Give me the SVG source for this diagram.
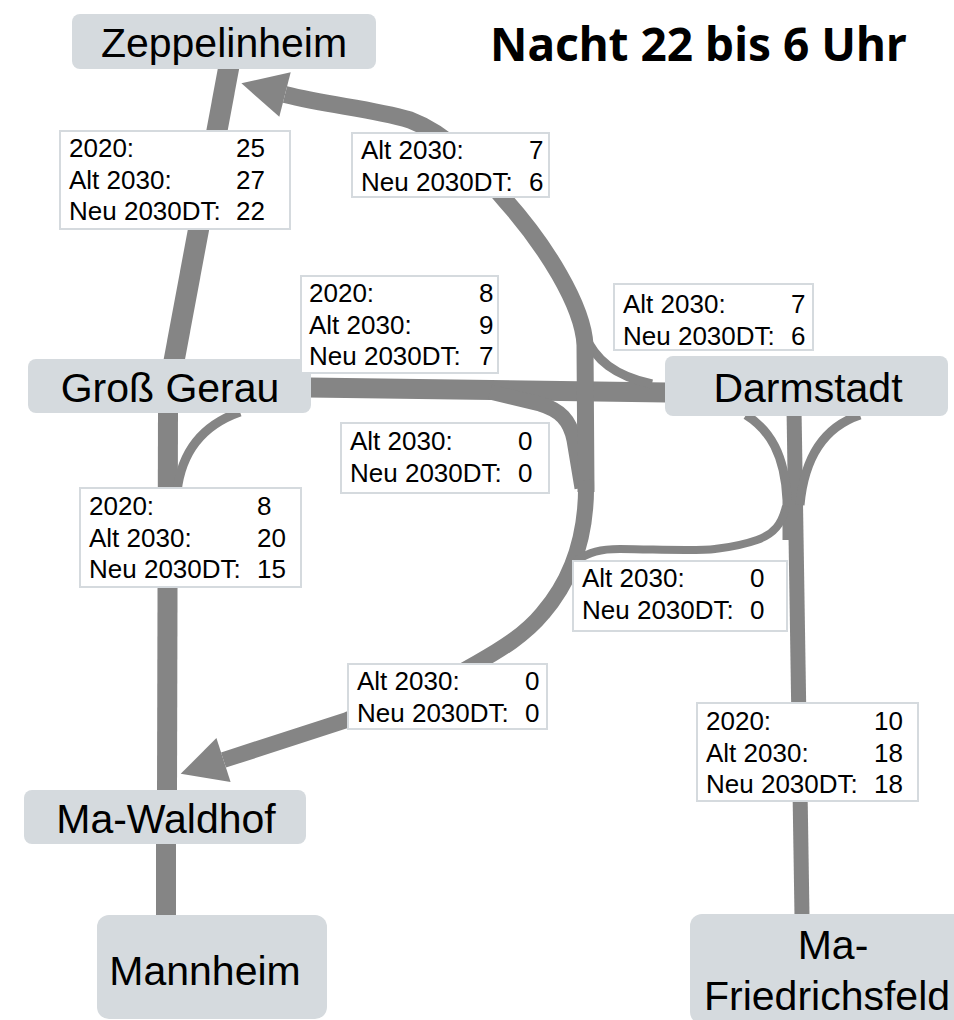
<svg xmlns="http://www.w3.org/2000/svg" width="954" height="1020" viewBox="0 0 954 1020">
  <style>
    .e { fill: none; stroke: #858585; stroke-linecap: butt; stroke-linejoin: round; }
    .node rect { fill: #d5dade; }
    .node text { font-family: "Liberation Sans", Arial, sans-serif; font-size: 41px; fill: #000; text-anchor: middle; }
    .lbl rect { fill: #fff; stroke: #d5dade; stroke-width: 2; }
    .lbl text { font-family: "Liberation Sans", Arial, sans-serif; font-size: 26px; fill: #000; }
    .title { font-family: "Noto Sans", "Open Sans", "DejaVu Sans", sans-serif; font-size: 46px; font-weight: bold; fill: #000; }
  </style>
  <defs>
    <marker id="arr" markerUnits="userSpaceOnUse" markerWidth="50" markerHeight="50" viewBox="0 -25 50 50" refX="0" refY="0" orient="auto" overflow="visible">
      <path d="M45,0 L0,-23 L0,23 Z" fill="#858585"/>
    </marker>
  </defs>
  <rect width="954" height="1020" fill="#fff"/>

  <g id="connectors">
    <!-- Zeppelinheim - Gross Gerau -->
    <path class="e" stroke-width="21" d="M229 66 L174 361"/>
    <!-- Gross Gerau - Ma-Waldhof -->
    <path class="e" stroke-width="20" d="M168 411 L167 792"/>
    <!-- Ma-Waldhof - Mannheim -->
    <path class="e" stroke-width="20" d="M166 842 L166 917"/>
    <!-- Gross Gerau branch curve -->
    <path class="e" stroke-width="9" d="M177 492 C181 455, 200 426, 240 412"/>
    <!-- Gross Gerau - Darmstadt -->
    <path class="e" stroke-width="20" d="M309 387.5 L667 392.5"/>
    <!-- branch from GG-D line down -->
    <path class="e" stroke-width="15" d="M490 392 L540 404 C560 410, 570 420, 574 440 L582 488"/>
    <!-- Darmstadt left curve to vertical -->
    <path class="e" stroke-width="9" d="M585 335 C595 360, 615 376, 652 384"/>
    <!-- big curve up to Zeppelinheim -->
    <path class="e" stroke-width="17" marker-end="url(#arr)" d="M586 492 L585 345 C583 305, 545 245, 505 200 C480 170, 450 135, 410 120 C370 108, 330 106, 285 94.5"/>
    <!-- big curve down to Ma-Waldhof -->
    <path class="e" stroke-width="16" marker-end="url(#arr)" d="M586 480 C587 520, 580 570, 543 613 C525 635, 500 650, 477 663 C440 685, 400 700, 347 720 L223.5 760"/>
    <!-- Darmstadt - Ma-Friedrichsfeld -->
    <path class="e" stroke-width="15" d="M794 408 L802 916"/>
    <!-- Darmstadt bottom curves -->
    <path class="e" stroke-width="9" d="M746 415 C770 430, 785 455, 787 500 L787 540"/>
    <path class="e" stroke-width="9" d="M860 415 C830 425, 805 450, 800 505"/>
    <!-- S-curve from Darmstadt vertical to big curve -->
    <path class="e" stroke-width="8" d="M786 506 C782 524, 774 534, 757 540 C740 546, 730 547, 715 549 C700 551, 680 550, 620 549 C600 549, 590 552, 575 561"/>
  </g>

  <g id="node-zeppelinheim" class="node">
    <rect x="72" y="14" width="304" height="55" rx="8"/>
    <text x="224" y="57">Zeppelinheim</text>
  </g>
  <g id="node-gross-gerau" class="node">
    <rect x="28" y="359" width="283" height="54" rx="8"/>
    <text x="170" y="402">Groß Gerau</text>
  </g>
  <g id="node-darmstadt" class="node">
    <rect x="665" y="356" width="283" height="60" rx="8"/>
    <text x="808" y="402">Darmstadt</text>
  </g>
  <g id="node-ma-waldhof" class="node">
    <rect x="24" y="790" width="282" height="54" rx="8"/>
    <text x="166" y="833">Ma-Waldhof</text>
  </g>
  <g id="node-mannheim" class="node">
    <rect x="97" y="915" width="230" height="104" rx="12"/>
    <text x="205" y="985">Mannheim</text>
  </g>
  <g id="node-ma-friedrichsfeld" class="node">
    <rect x="690" y="914" width="290" height="110" rx="12"/>
    <text x="833" y="959">Ma-</text>
    <text x="704" y="1010" style="text-anchor:start">Friedrichsfeld</text>
  </g>

  <g id="labels" class="lbl">
    <g id="lbl-zep-gg">
      <rect x="60" y="131" width="230" height="98"/>
      <text x="69" y="157">2020:</text><text x="236" y="157">25</text>
      <text x="69" y="189">Alt 2030:</text><text x="236" y="189">27</text>
      <text x="69" y="220">Neu 2030DT:</text><text x="236" y="220">22</text>
    </g>
    <g id="lbl-to-zep">
      <rect x="352" y="133" width="197" height="64"/>
      <text x="361" y="159">Alt 2030:</text><text x="529" y="159">7</text>
      <text x="361" y="191">Neu 2030DT:</text><text x="529" y="191">6</text>
    </g>
    <g id="lbl-gg-d">
      <rect x="301" y="276" width="197" height="97"/>
      <text x="309" y="302">2020:</text><text x="479" y="302">8</text>
      <text x="309" y="334">Alt 2030:</text><text x="479" y="334">9</text>
      <text x="309" y="365">Neu 2030DT:</text><text x="479" y="365">7</text>
    </g>
    <g id="lbl-d-curve">
      <rect x="614" y="284" width="199" height="66"/>
      <text x="623" y="313">Alt 2030:</text><text x="791" y="313">7</text>
      <text x="623" y="345">Neu 2030DT:</text><text x="791" y="345">6</text>
    </g>
    <g id="lbl-branch">
      <rect x="341" y="423" width="208" height="70"/>
      <text x="350" y="450">Alt 2030:</text><text x="518" y="450">0</text>
      <text x="350" y="482">Neu 2030DT:</text><text x="518" y="482">0</text>
    </g>
    <g id="lbl-gg-mw">
      <rect x="80" y="488" width="221" height="99"/>
      <text x="89" y="515">2020:</text><text x="257" y="515">8</text>
      <text x="89" y="547">Alt 2030:</text><text x="257" y="547">20</text>
      <text x="89" y="578">Neu 2030DT:</text><text x="257" y="578">15</text>
    </g>
    <g id="lbl-s-curve">
      <rect x="573" y="561" width="214" height="70"/>
      <text x="582" y="587">Alt 2030:</text><text x="750" y="587">0</text>
      <text x="582" y="619">Neu 2030DT:</text><text x="750" y="619">0</text>
    </g>
    <g id="lbl-to-mw">
      <rect x="348" y="664" width="199" height="65"/>
      <text x="357" y="690">Alt 2030:</text><text x="525" y="690">0</text>
      <text x="357" y="722">Neu 2030DT:</text><text x="525" y="722">0</text>
    </g>
    <g id="lbl-d-mf">
      <rect x="697" y="703" width="221" height="98"/>
      <text x="706" y="730">2020:</text><text x="874" y="730">10</text>
      <text x="706" y="762">Alt 2030:</text><text x="874" y="762">18</text>
      <text x="706" y="793">Neu 2030DT:</text><text x="874" y="793">18</text>
    </g>
  </g>

  <text id="title" class="title" x="490" y="61">Nacht 22 bis 6 Uhr</text>
</svg>
